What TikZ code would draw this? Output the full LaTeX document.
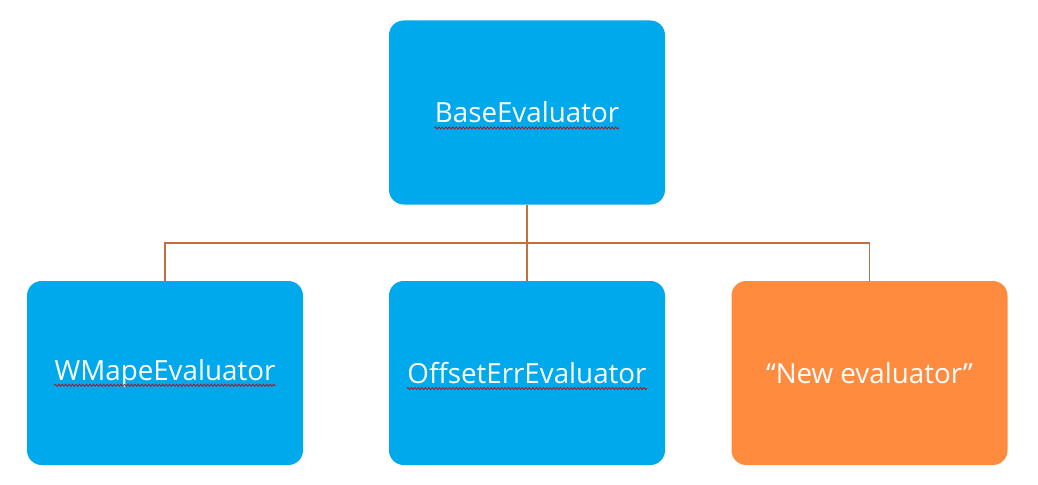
\documentclass[tikz,border=0pt]{standalone}
\usepackage{fontspec}
\setmainfont{Open Sans}
\usetikzlibrary{decorations.pathmorphing}
\definecolor{boxblue}{HTML}{00A8EC}
\definecolor{boxorange}{HTML}{FF8B3F}
\definecolor{linkbrown}{HTML}{C0703E}
\begin{document}
\begin{tikzpicture}[x=0.75pt, y=-0.75pt,
    box/.style = {shape=rectangle, rounded corners=11pt, fill=boxblue,
      minimum width=207pt, minimum height=138pt, inner sep=0pt},
    newbox/.style = {box, fill=boxorange},
    txt/.style = {text=white, font=\fontsize{20.8}{25}\selectfont, inner sep=0pt},
    link/.style = {draw=linkbrown, line width=0.9pt},
    squiggle/.style = {draw=red!80!black, line width=0.5pt,
      decorate, decoration={zigzag, amplitude=0.8pt, segment length=2.6pt}}]
  \useasboundingbox (0,0) rectangle (1038,485);
  % boxes
  \node[box] (n1) at (527,112.5) {};
  \node[box] (n2) at (165,373) {};
  \node[box] (n3) at (527,373) {};
  \node[newbox] (n4) at (869.5,373) {};
  % texts
  \node[txt] (t1) at (n1) {BaseEvaluator};
  \node[txt] (t2) at (n2) {WMapeEvaluator};
  \node[txt] (t3) at (n3) {OffsetErrEvaluator};
  \node[txt] (t4) at (n4) {“New evaluator”};
  % spell-check marks
  \foreach \t in {t1,t2,t3}
    \path[squiggle] ([yshift=-3.8pt]\t.base west) -- ([yshift=-3.8pt]\t.base east);
  % connectors
  \coordinate (split) at (527,243);
  \path[link] (n1.south) -- (split);
  \path[link] (split) -| (n2.north);
  \path[link] (split) -- (n3.north);
  \path[link] (split) -| (n4.north);
\end{tikzpicture}
\end{document}
